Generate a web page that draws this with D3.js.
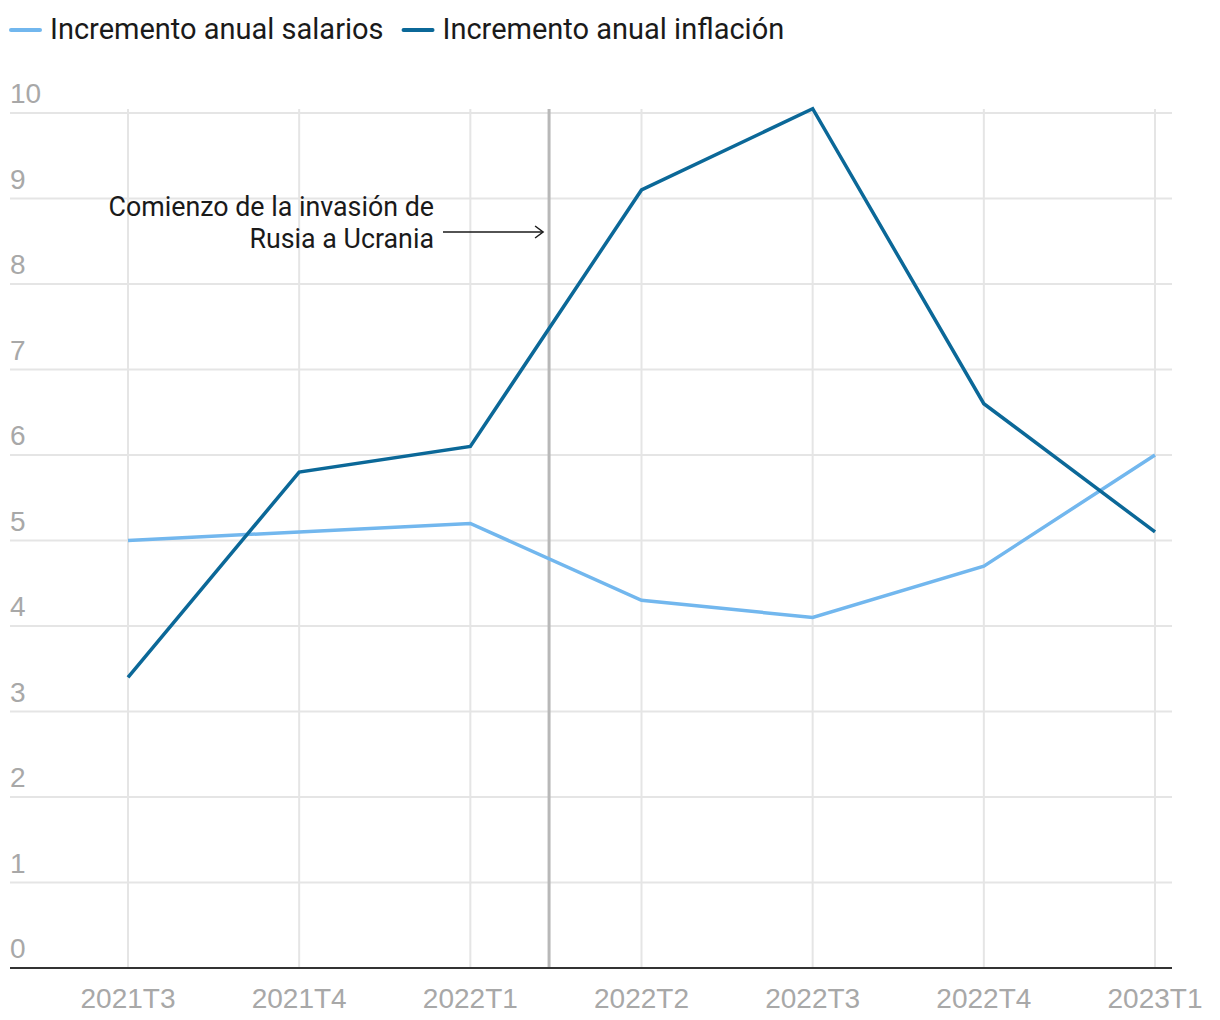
<!DOCTYPE html>
<meta charset="utf-8">
<script src="https://d3js.org/d3.v7.min.js"></script>
<style>
  body { margin: 0; background: #fff; }
  svg text { font-family: "Liberation Sans", Arial, sans-serif; }
</style>
<svg id="chart" width="1220" height="1020"></svg>
<script>

// Data
var quarters  = ["2021T3", "2021T4", "2022T1", "2022T2", "2022T3", "2022T4", "2023T1"];
var salarios  = [5.0, 5.1, 5.2, 4.3, 4.1, 4.7, 6.0];
var inflacion = [3.4, 5.8, 6.1, 9.1, 10.05, 6.6, 5.1];
var yTicks    = [0, 1, 2, 3, 4, 5, 6, 7, 8, 9, 10];
var seriesNames = ["Incremento anual salarios", "Incremento anual inflación"];
var eventLabel  = ["Comienzo de la invasión de", "Rusia a Ucrania"];
var eventAfter  = "2022T1", eventFrac = 0.46;   // invasion falls between T1 and T2 2022

var colors = ["#72b7ee", "#0b6898"];

var svg = d3.select("#chart");

var x = d3.scalePoint().domain(quarters).range([128, 1155]);
var y = d3.scaleLinear().domain([0, 10]).range([968, 113]);
var left = 10, right = 1172;

// horizontal grid
svg.append("g").selectAll("line")
  .data(yTicks.filter(function(d){ return d > 0 }))
  .enter().append("line")
    .attr("x1", left).attr("x2", right)
    .attr("y1", function(d){ return y(d) }).attr("y2", function(d){ return y(d) })
    .attr("stroke", "#e5e5e5").attr("stroke-width", 2);

// vertical grid
svg.append("g").selectAll("line")
  .data(quarters)
  .enter().append("line")
    .attr("x1", function(d){ return x(d) }).attr("x2", function(d){ return x(d) })
    .attr("y1", y(10) - 4).attr("y2", y(0))
    .attr("stroke", "#e5e5e5").attr("stroke-width", 2);

// y labels (sit above their gridline)
svg.append("g").selectAll("text")
  .data(yTicks)
  .enter().append("text")
    .attr("x", left)
    .attr("y", function(d){ return y(d) - 10 })
    .attr("fill", "#a8a8a8")
    .style("font-size", "28px")
    .text(function(d){ return d });

// x labels
svg.append("g").selectAll("text")
  .data(quarters)
  .enter().append("text")
    .attr("x", function(d){ return x(d) })
    .attr("y", 1008)
    .attr("text-anchor", "middle")
    .attr("fill", "#a8a8a8")
    .style("font-size", "28px")
    .text(function(d){ return d });

// event line
var i0 = quarters.indexOf(eventAfter);
var ex = x(quarters[i0]) + eventFrac * (x(quarters[i0 + 1]) - x(quarters[i0]));
svg.append("line")
  .attr("x1", ex).attr("x2", ex)
  .attr("y1", y(10) - 4).attr("y2", y(0))
  .attr("stroke", "#b8b8b8").attr("stroke-width", 3);

// baseline
svg.append("line")
  .attr("x1", left).attr("x2", right)
  .attr("y1", y(0)).attr("y2", y(0))
  .attr("stroke", "#333").attr("stroke-width", 2);

// lines
var line = d3.line()
  .x(function(d, i){ return x(quarters[i]) })
  .y(function(d){ return y(d) });

[salarios, inflacion].forEach(function(vals, k){
  svg.append("path")
    .datum(vals)
    .attr("d", line)
    .attr("fill", "none")
    .attr("stroke", colors[k])
    .attr("stroke-width", 3.5)
    .attr("stroke-linejoin", "miter");
});

// annotation
var ann = svg.append("g");
ann.selectAll("text")
  .data(eventLabel)
  .enter().append("text")
    .attr("x", 434)
    .attr("y", function(d, i){ return 216 + i * 32 })
    .attr("text-anchor", "end")
    .attr("fill", "#1a1a1a")
    .style("font-family", "Roboto, sans-serif")
    .style("font-size", "26.8px")
    .text(function(d){ return d });

ann.append("line")
  .attr("x1", 443).attr("x2", ex - 6)
  .attr("y1", 232).attr("y2", 232)
  .attr("stroke", "#1a1a1a").attr("stroke-width", 1.5);
ann.append("path")
  .attr("d", "M" + (ex - 14) + ",226 L" + (ex - 6) + ",232 L" + (ex - 14) + ",238")
  .attr("fill", "none")
  .attr("stroke", "#1a1a1a").attr("stroke-width", 1.5);

// legend
var lx = 10;
seriesNames.forEach(function(name, k){
  svg.append("line")
    .attr("x1", lx + 1).attr("x2", lx + 30)
    .attr("y1", 30).attr("y2", 30)
    .attr("stroke", colors[k]).attr("stroke-width", 4)
    .attr("stroke-linecap", "round");
  var t = svg.append("text")
    .attr("x", lx + 40)
    .attr("y", 39)
    .attr("fill", "#1a1a1a")
    .style("font-family", "Roboto, sans-serif")
    .style("font-size", "29px")
    .text(name);
  lx += 40 + t.node().getComputedTextLength() + 19;
});

</script>
